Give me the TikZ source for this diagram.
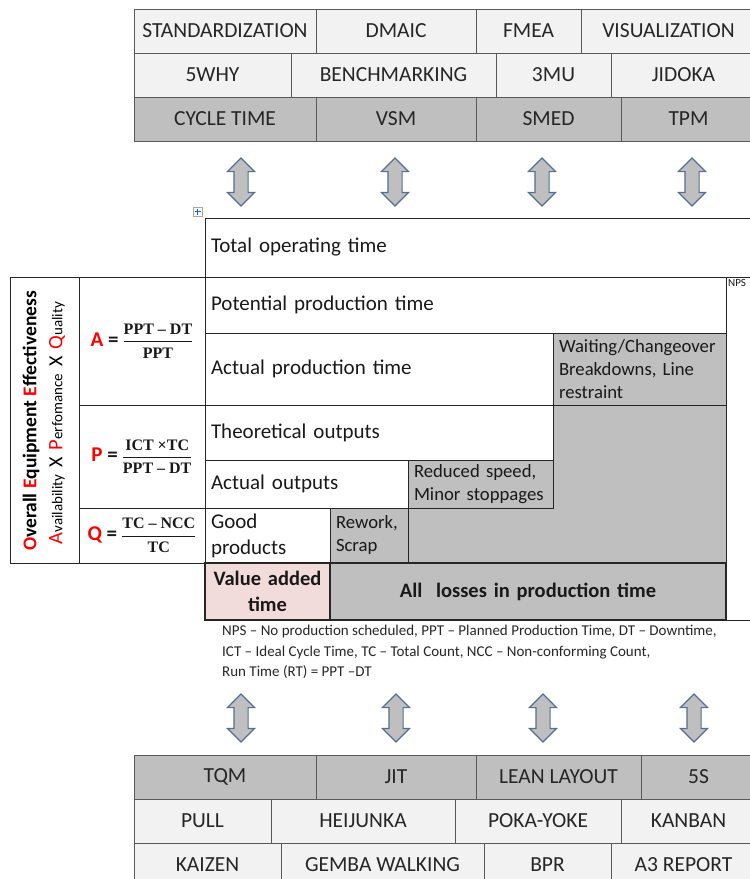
\documentclass[tikz,border=0pt]{standalone}
\usepackage{amsmath}
\usepackage{fontspec}
\setmainfont{Carlito}
\newfontfamily\fracfont{Liberation Serif}
\usetikzlibrary{positioning,shapes.arrows}

\definecolor{lightcell}{RGB}{242,242,242}
\definecolor{darkcell}{RGB}{191,191,191}
\definecolor{pinkcell}{RGB}{242,220,219}
\definecolor{arrowline}{RGB}{84,110,150}
\definecolor{ink}{RGB}{38,38,38}

\newcommand\oeecap[1]{{\fontsize{20.5}{22}\selectfont\textcolor{red}{#1}}}

\begin{document}
\begin{tikzpicture}[x=1pt, y=-1pt, node distance=0pt]
    \tikzset{
        tag/.style      =   { rectangle
                            , draw=black!65
                            , fill=lightcell
                            , line width=0.8pt
                            , minimum height=44pt
                            , inner sep=0pt
                            , outer sep=0pt
                            , text=ink
                            , font=\fontsize{21.5}{24}\selectfont
        }
        , tagdark/.style =  { tag
                            , fill=darkcell
        }
        , updown/.style  =  { double arrow
                            , draw=arrowline
                            , fill=darkcell
                            , line width=1.1pt
                            , rotate=90
                            , inner sep=6.5pt
                            , minimum height=48pt
                            , double arrow head extend=6.5pt
        }
        , cell/.style    =  { rectangle
                            , draw=black!85
                            , line width=0.8pt
                            , anchor=north west
                            , align=left
                            , inner xsep=6pt
                            , inner ysep=0pt
                            , outer sep=0pt
                            , text=black!90
                            , font=\fontsize{21}{26}\selectfont
        }
        , loss/.style    =  { cell
                            , fill=darkcell
                            , font=\fontsize{18.7}{23}\selectfont
        }
        , total/.style   =  { cell
                            , line width=2pt
                            , align=center
                            , font=\bfseries\fontsize{20.5}{26}\selectfont
        }
        , formula/.style =  { cell
                            , align=center
                            , inner xsep=0pt
                            , font=\fracfont\bfseries\fontsize{16}{19}\selectfont
        }
    }
    \useasboundingbox (0,0) rectangle (750,879);

    % tools above
    \node(s1)[tag, minimum width=182pt, anchor=north west] at (134,9) {STANDARDIZATION};
    \node(s2)[tag, minimum width=160pt, right=of s1] {DMAIC};
    \node(s3)[tag, minimum width=105pt, right=of s2] {FMEA};
    \node(s4)[tag, minimum width=175pt, right=of s3] {VISUALIZATION};
    \node(w1)[tag, minimum width=157pt, anchor=north west] at (134,53) {5WHY};
    \node(w2)[tag, minimum width=205pt, right=of w1] {BENCHMARKING};
    \node(w3)[tag, minimum width=115pt, right=of w2] {3MU};
    \node(w4)[tag, minimum width=145pt, right=of w3] {JIDOKA};
    \node(c1)[tagdark, minimum width=182pt, anchor=north west] at (134,97) {CYCLE TIME};
    \node(c2)[tagdark, minimum width=160pt, right=of c1] {VSM};
    \node(c3)[tagdark, minimum width=145pt, right=of c2] {SMED};
    \node(c4)[tagdark, minimum width=135pt, right=of c3] {TPM};

    \node(up1)[updown] at (241,182) {};
    \node(up2)[updown] at (395,182) {};
    \node(up3)[updown] at (542,182) {};
    \node(up4)[updown] at (692,182) {};

    % table move handle
    \draw[black!35, fill=white] (193,207) rectangle (202,216);
    \draw[blue!60!cyan] (194.5,211.5) -- (200.5,211.5) (197.5,208.5) -- (197.5,214.5);

    % losses
    \filldraw[draw=black!85, line width=0.8pt, fill=darkcell]
        (553,405) -- (726,405) -- (726,563) -- (408,563) -- (408,508) -- (553,508) -- cycle;

    \node(tot)[cell, text width=543pt, minimum height=59pt] at (205,218) {Total operating time};
    \node(nps)[cell, minimum width=34pt, minimum height=343pt,
        label={[anchor=north west, inner sep=2pt, text=black!90, font=\fontsize{11}{12}\selectfont]north west:NPS}] at (726,277) {};
    \node(pot)[cell, text width=509pt, minimum height=56pt] at (205,277) {Potential production time};
    \node(apt)[cell, text width=336pt, minimum height=72pt] at (205,333) {Actual production time};
    \node(wait)[loss, text width=161pt, minimum height=72pt] at (553,333) {Waiting/Changeover\\Breakdowns, Line\\restraint};
    \node(theo)[cell, text width=336pt, minimum height=55pt] at (205,405) {Theoretical outputs};
    \node(aout)[cell, text width=191pt, minimum height=48pt] at (205,460) {Actual outputs};
    \node(slow)[loss, text width=133pt, minimum height=48pt] at (408,460) {Reduced speed,\\Minor stoppages};
    \node(good)[cell, text width=113pt, minimum height=55pt] at (205,508) {Good\\products};
    \node(scrap)[loss, text width=66pt, minimum height=55pt] at (330,508) {Rework,\\Scrap};
    \node(vat)[total, fill=pinkcell, text width=113pt, minimum height=57pt] at (205,563) {Value added\\time};
    \node(lost)[total, fill=darkcell, text width=384pt, minimum height=57pt] at (330,563) {All\ \ losses in production time};

    % OEE and its factors
    \node(oee)[cell, minimum width=69pt, minimum height=286pt] at (10,277) {};
    \node(oeename)[rotate=90, font=\bfseries\fontsize{19.5}{22}\selectfont] at (31,421)
        {\textcolor{red}{O}verall \textcolor{red}{E}quipment \textcolor{red}{E}ffectiveness};
    \node(oeeterms)[rotate=90, font=\fontsize{15}{17}\selectfont] at (57,423)
        {\oeecap{A}vailability\hspace{7pt}{\fontsize{20}{22}\selectfont X}\hspace{7pt}\oeecap{P}erfomance\hspace{7pt}{\fontsize{20}{22}\selectfont X}\hspace{7pt}\oeecap{Q}uality};
    \node(fa)[formula, minimum width=126pt, minimum height=128pt] at (79,277)
        {{\rmfamily\fontsize{21}{21}\selectfont\textcolor{red}{A} =} $\dfrac{\text{PPT – DT}}{\text{PPT}}$};
    \node(fp)[formula, minimum width=126pt, minimum height=103pt] at (79,405)
        {{\rmfamily\fontsize{21}{21}\selectfont\textcolor{red}{P} =} $\dfrac{\text{ICT ×TC}}{\text{PPT – DT}}$};
    \node(fq)[formula, minimum width=126pt, minimum height=55pt] at (79,508)
        {{\rmfamily\fontsize{21}{21}\selectfont\textcolor{red}{Q} =} $\dfrac{\text{TC – NCC}}{\text{TC}}$};

    \node(notes)[anchor=north west, align=left, inner sep=0pt, text=ink, font=\fontsize{15}{20.5}\selectfont] at (222,625)
        {NPS – No production scheduled, PPT – Planned Production Time, DT – Downtime,\\
         ICT – Ideal Cycle Time, TC – Total Count, NCC – Non-conforming Count,\\
         Run Time (RT) = PPT –DT};

    \node(dn1)[updown] at (241,718) {};
    \node(dn2)[updown] at (396,718) {};
    \node(dn3)[updown] at (543,718) {};
    \node(dn4)[updown] at (694,718) {};

    % tools below
    \node(t1)[tagdark, minimum width=182pt, anchor=north west] at (134,755) {TQM};
    \node(t2)[tagdark, minimum width=160pt, right=of t1] {JIT};
    \node(t3)[tagdark, minimum width=165pt, right=of t2] {LEAN LAYOUT};
    \node(t4)[tagdark, minimum width=115pt, right=of t3] {5S};
    \node(p1)[tag, minimum width=137pt, anchor=north west] at (134,799) {PULL};
    \node(p2)[tag, minimum width=184pt, right=of p1] {HEIJUNKA};
    \node(p3)[tag, minimum width=166pt, right=of p2] {POKA-YOKE};
    \node(p4)[tag, minimum width=135pt, right=of p3] {KANBAN};
    \node(k1)[tag, minimum width=147pt, anchor=north west] at (134,843) {KAIZEN};
    \node(k2)[tag, minimum width=203pt, right=of k1] {GEMBA WALKING};
    \node(k3)[tag, minimum width=127pt, right=of k2] {BPR};
    \node(k4)[tag, minimum width=145pt, right=of k3] {A3 REPORT};
\end{tikzpicture}
\end{document}
